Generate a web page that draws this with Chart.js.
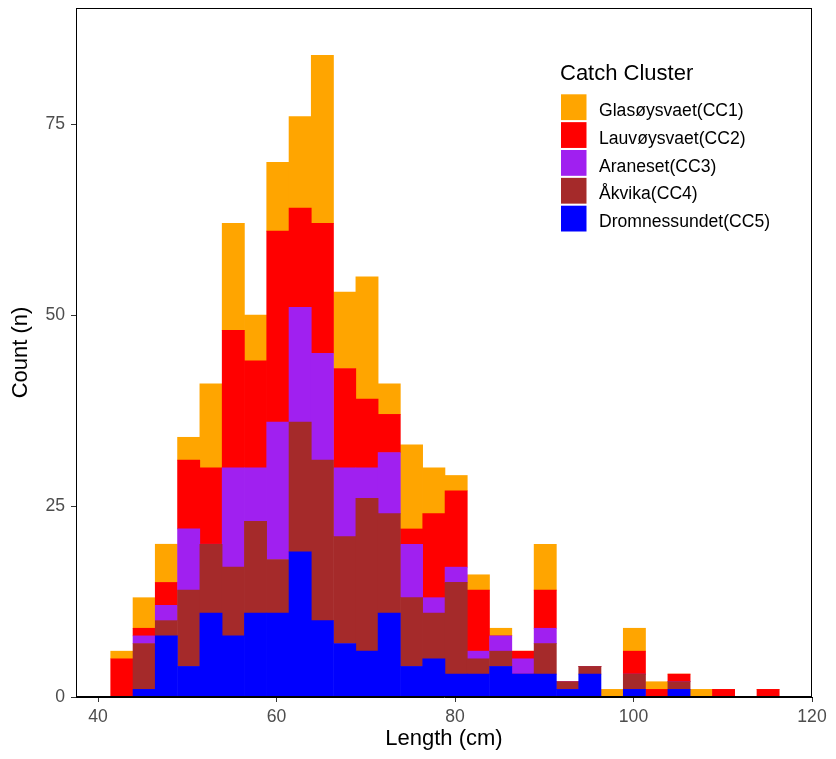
<!DOCTYPE html>
<html>
<head>
<meta charset="utf-8">
<script src="https://cdn.jsdelivr.net/npm/chart.js@4"></script>
<style>
  html, body { margin: 0; padding: 0; background: #fff; }
  #wrap { width: 836px; height: 759px; position: relative; }
</style>
</head>
<body>
<div id="wrap"><canvas id="c" width="836" height="759"></canvas></div>
<script>
// Bin centres (cm) of the 30 histogram bins
const binCenters = [42.67, 45.17, 47.66, 50.16, 52.66, 55.16, 57.65, 60.15, 62.65, 65.14,
                    67.64, 70.14, 72.63, 75.13, 77.63, 80.13, 82.62, 85.12, 87.62, 90.11,
                    92.61, 95.11, 97.60, 100.10, 102.60, 105.10, 107.59, 110.09, 112.59, 115.08];

// Counts per catch cluster (per bin)
const glasoysvaet   = [1,4,5,3,11,14,6,9,12,22,10,16,4,11,6,2,2,1,0,6,0,0,1,3,1,0,1,0,0,0];
const lauvoysvaet   = [5,1,3,9,10,18,14,25,13,17,13,9,5,2,11,10,8,0,1,5,0,0,0,3,1,1,0,1,0,1];
const araneset      = [0,1,2,8,0,13,7,18,15,14,9,4,8,7,2,2,1,2,2,2,0,0,0,0,0,0,0,0,0,0];
const akvika        = [0,6,2,10,9,9,12,7,17,21,14,20,13,9,6,12,2,2,0,4,1,1,0,2,0,1,0,0,0,0];
const dromnessundet = [0,1,8,4,11,8,11,11,19,10,7,6,11,4,5,3,3,4,3,3,1,3,0,1,0,1,0,0,0,0];

const seriesLabels = ['Glasøysvaet(CC1)', 'Lauvøysvaet(CC2)', 'Araneset(CC3)', 'Åkvika(CC4)', 'Dromnessundet(CC5)'];
const seriesColors = ['#FFA500', '#FF0000', '#A020F0', '#A52A2A', '#0000FF'];
const seriesValues = [glasoysvaet, lauvoysvaet, araneset, akvika, dromnessundet];

const xTicks = [40, 60, 80, 100, 120];
const yTicks = [0, 25, 50, 75];
const legendTitle = 'Catch Cluster';
const xTitle = 'Length (cm)';
const yTitle = 'Count (n)';

const FONT = '"Liberation Sans", Arial, sans-serif';

// Stack bottom-to-top: CC5 at the bottom, CC1 on top
const datasets = [];
for (let s = seriesValues.length - 1; s >= 0; s--) {
  datasets.push({
    label: seriesLabels[s],
    data: binCenters.map((x, i) => ({ x: x, y: seriesValues[s][i] })),
    backgroundColor: seriesColors[s],
    borderWidth: 0,
    categoryPercentage: 1.0,
    barPercentage: 1.0
  });
}

const panelBorder = {
  id: 'panelBorder',
  afterDatasetsDraw(chart) {
    const a = chart.chartArea, ctx = chart.ctx;
    ctx.save();
    ctx.strokeStyle = '#000';
    ctx.lineWidth = 1;
    ctx.strokeRect(Math.round(a.left) + 0.5, Math.round(a.top) + 0.5,
                   Math.round(a.right - a.left) - 1, Math.round(a.bottom - a.top) - 1);
    ctx.restore();
  }
};

const ggLegend = {
  id: 'ggLegend',
  afterDraw(chart) {
    const ctx = chart.ctx;
    ctx.save();
    ctx.fillStyle = '#000';
    ctx.font = '22px ' + FONT;
    ctx.textBaseline = 'alphabetic';
    ctx.textAlign = 'left';
    ctx.fillText(legendTitle, 560, 80);
    const ds = chart.data.datasets.slice().reverse();
    ds.forEach((d, i) => {
      const y = 94.3 + i * 27.85;
      ctx.fillStyle = d.backgroundColor;
      ctx.fillRect(561, y, 25.5, 25.8);
      ctx.fillStyle = '#000';
      ctx.font = '17.6px ' + FONT;
      ctx.fillText(d.label, 599, y + 21.5);
    });
    ctx.restore();
  }
};

new Chart(document.getElementById('c'), {
  type: 'bar',
  data: { datasets: datasets },
  options: {
    responsive: false,
    animation: false,
    events: [],
    layout: { padding: { left: 0, top: 8, right: 24, bottom: 0 } },
    plugins: { legend: { display: false }, tooltip: { enabled: false } },
    scales: {
      x: {
        type: 'linear',
        stacked: true,
        offset: false,
        min: 37.535,
        max: 120,
        afterBuildTicks: (axis) => { axis.ticks = xTicks.map(v => ({ value: v })); },
        afterFit: (axis) => { axis.height = 62; axis.paddingLeft = 0; axis.paddingRight = 0; },
        grid: { display: true, offset: false, drawOnChartArea: false, drawTicks: true, tickLength: 5, color: '#333333', lineWidth: 1 },
        border: { display: true, color: '#000', width: 1 },
        ticks: { color: '#4D4D4D', font: { family: FONT, size: 17.6 }, padding: 5, maxRotation: 0, autoSkip: false },
        title: { display: true, text: xTitle, color: '#000', font: { family: FONT, size: 22 }, padding: { top: 0, bottom: 7 } }
      },
      y: {
        stacked: true,
        min: 0,
        max: 90.2,
        afterBuildTicks: (axis) => { axis.ticks = yTicks.map(v => ({ value: v })); },
        afterFit: (axis) => { axis.width = 76; axis.paddingTop = 0; axis.paddingBottom = 0; },
        grid: { display: true, drawOnChartArea: false, drawTicks: true, tickLength: 5, color: '#333333', lineWidth: 1 },
        border: { display: true, color: '#000', width: 1 },
        ticks: { color: '#4D4D4D', font: { family: FONT, size: 17.6 }, padding: 6, autoSkip: false },
        title: { display: true, text: yTitle, color: '#000', font: { family: FONT, size: 22 }, padding: { top: 8, bottom: 0 } }
      }
    }
  },
  plugins: [panelBorder, ggLegend]
});
</script>
</body>
</html>
